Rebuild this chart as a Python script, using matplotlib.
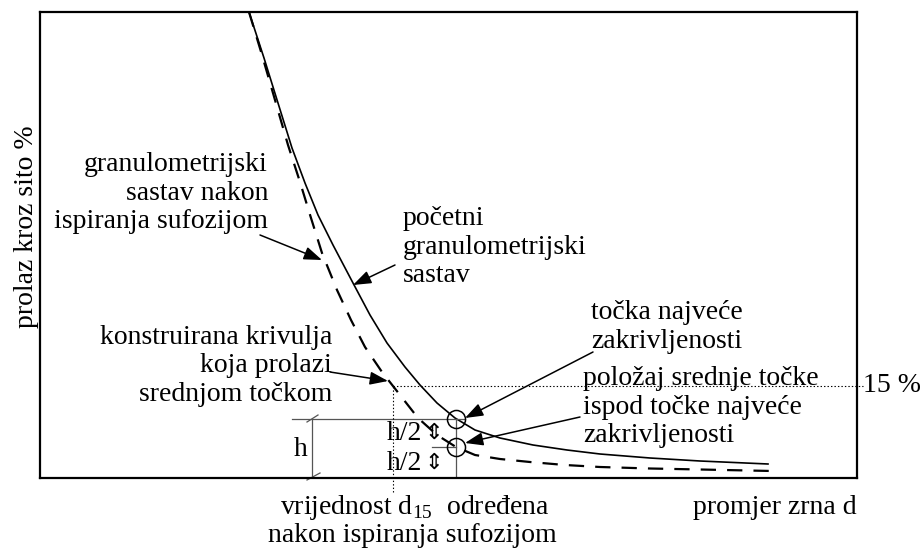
import matplotlib
matplotlib.use('Agg')
import matplotlib.pyplot as plt
import numpy as np

plt.rcParams['font.family'] = ['Liberation Serif', 'DejaVu Serif']
plt.rcParams['mathtext.fontset'] = 'custom'
plt.rcParams['mathtext.rm'] = 'Liberation Serif'
plt.rcParams['lines.scale_dashes'] = False

# schematic grading curves (x: grain size units, y: passing units)
x_initial = [209, 224, 238, 252, 265, 278, 293, 313, 330, 347, 365, 380, 397, 415, 435, 460, 493, 527, 560, 610, 660, 728]
y_initial = [466, 420, 375, 330, 295, 263, 233, 195, 163, 135, 111, 93, 75, 60, 48, 40, 33, 28, 24, 20, 17, 14]

x_after = [209, 222, 235, 248, 260, 271, 282, 297, 311, 325, 342, 360, 378, 397, 416, 435, 460, 490, 525, 560, 610, 660, 732]
y_after = [466, 423, 378, 333, 296, 260, 225, 188, 158, 131, 106, 83, 60, 43, 31, 23, 19, 16, 13, 11, 9.5, 8.5, 7]

# point of max curvature and constructed mid point
x_pts = [416, 416]
y_pts = [59, 31]

# d15 / 15 % reference
x_d15 = 353
y_15 = 92

fs = 20
ls = 1.2
fig = plt.figure(figsize=(9.23, 5.5), dpi=100)
ax = fig.add_axes([40/923, 72/550, 817/923, 466/550])
ax.set_xlim(0, 817)
ax.set_ylim(0, 466)
ax.set_xticks([])
ax.set_yticks([])
for s in ax.spines.values():
    s.set_linewidth(1.6)

ax.plot(x_initial, y_initial, color='k', lw=1.2)
ax.plot(x_after, y_after, color='k', lw=1.6, dashes=(11, 8))

# h construction (grey)
g = '#555555'
ax.plot([252, 425], [y_pts[0], y_pts[0]], color=g, lw=0.9)
ax.plot([272, 272], [0, y_pts[0]], color=g, lw=0.9)
ax.plot([267, 278], [y_pts[0]-3, y_pts[0]+4], color=g, lw=0.9)
ax.plot([267, 280], [-2, 5], color=g, lw=0.9, clip_on=False)
ax.plot([x_pts[0], x_pts[0]], [0, y_pts[0]], color=g, lw=0.9)
ax.plot([392, x_pts[1]], [y_pts[1], y_pts[1]], color=g, lw=0.9)
ax.plot(x_pts, y_pts, 'o', ms=13, mfc='none', mec='k', mew=1.1, ls='none')

# dotted d15 lines
ax.plot([x_d15, x_d15], [-14, y_15], color='k', lw=0.8, ls=(0, (1, 1.5)), clip_on=False)
ax.plot([x_d15, 823], [y_15, y_15], color='k', lw=0.8, ls=(0, (1, 1.5)), clip_on=False)

# texts
ax.text(228, 285, 'granulometrijski\nsastav nakon\nispiranja sufozijom', fontsize=fs,
        ha='right', va='center', multialignment='right', linespacing=ls)
ax.text(363, 231, 'početni\ngranulometrijski\nsastav', fontsize=fs,
        ha='left', va='center', linespacing=ls)
ax.text(292, 112, 'konstruirana krivulja\nkoja prolazi\nsrednjom točkom', fontsize=fs,
        ha='right', va='center', multialignment='right', linespacing=ls)
ax.text(627, 151, 'točka najveće\nzakrivljenosti', fontsize=fs,
        ha='center', va='center', linespacing=ls)
ax.text(543, 71, 'položaj srednje točke\nispod točke najveće\nzakrivljenosti', fontsize=fs,
        ha='left', va='center', linespacing=ls)
ax.text(261, 28, 'h', fontsize=fs, ha='center', va='center')
for yy in [45, 15]:
    ax.text(382, yy, 'h/2', fontsize=fs, ha='right', va='center')
    ax.text(384, yy, '⇕', fontsize=16, ha='left', va='center', family='DejaVu Sans')
ax.text(823, y_15, '15 %', fontsize=fs, ha='left', va='center', clip_on=False)

# arrows
arrows = [((220, 243), (282, 218)), ((355, 213), (313, 193)), ((290, 106), (348, 97)),
          ((553, 126), (425, 60)), ((540, 61), (425, 35))]
for start, end in arrows:
    ax.annotate('', xy=end, xytext=start,
                arrowprops=dict(arrowstyle='-|>,head_length=0.55,head_width=0.2', color='k',
                                lw=1.1, mutation_scale=20, shrinkA=0, shrinkB=0))

fig.text(27/923, (550-227)/550, 'prolaz kroz sito %', rotation=90, fontsize=fs,
         ha='center', va='center')
fig.text(857/923, (550-507)/550, 'promjer zrna d', fontsize=fs, ha='right', va='center')
fig.text(280/923, (550-508)/550, 'vrijednost d$_{15}$  određena', fontsize=fs,
         ha='left', va='center')
fig.text(268/923, (550-535)/550, 'nakon ispiranja sufozijom', fontsize=fs,
         ha='left', va='center')

fig.savefig('out.png', dpi=100)
